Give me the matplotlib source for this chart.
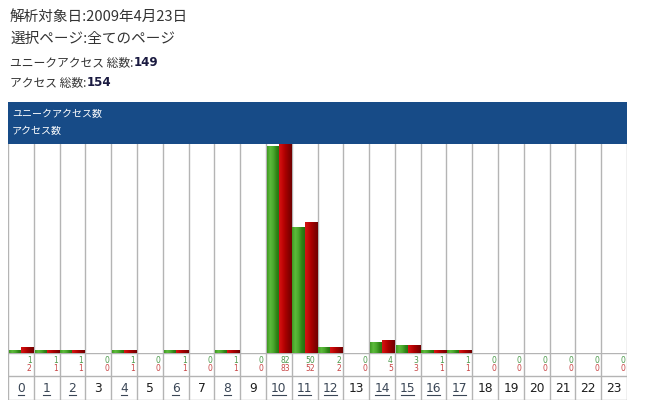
import numpy as np
import matplotlib
matplotlib.use("Agg")
import matplotlib.pyplot as plt
from matplotlib.colors import LinearSegmentedColormap

plt.rcParams['font.family'] = ['Noto Sans CJK JP', 'DejaVu Sans']

# data: hourly access counts for 2009-04-23
hours = list(range(24))
unique_access = [1, 1, 1, 0, 1, 0, 1, 0, 1, 0, 82, 50, 2, 0, 4, 3, 1, 1, 0, 0, 0, 0, 0, 0]
total_access = [2, 1, 1, 0, 1, 0, 1, 0, 1, 0, 83, 52, 2, 0, 5, 3, 1, 1, 0, 0, 0, 0, 0, 0]
title_lines = ["解析対象日:2009年4月23日", "選択ページ:全てのページ"]
legend_labels = ["ユニークアクセス数", "アクセス数"]

W, H = 649, 404
fig = plt.figure(figsize=(W / 100, H / 100), dpi=100)
fig.patch.set_facecolor("white")


def fx(px):
    return px / W


def fy(py):
    return 1 - py / H


left, right = 8, 627
band_top, band_bot = 102, 144
bar_bot = 353
val_bot = 376
tab_bot = 400

# header text
fig.text(fx(10), fy(17), title_lines[0], fontsize=10.5, color="#333333", va="center")
fig.text(fx(10), fy(39), title_lines[1], fontsize=10.5, color="#333333", va="center")
t = fig.text(fx(10), fy(63), "ユニークアクセス 総数:", fontsize=8.5, color="#333333", va="center")
fig.canvas.draw()
bb = t.get_window_extent()
fig.text(bb.x1 / W, fy(63), str(sum(unique_access)), fontsize=8.5, color="#1a1a40",
         fontweight="bold", va="center", family="DejaVu Sans")
t = fig.text(fx(10), fy(83), "アクセス 総数:", fontsize=8.5, color="#333333", va="center")
fig.canvas.draw()
bb = t.get_window_extent()
fig.text(bb.x1 / W, fy(83), str(sum(total_access)), fontsize=8.5, color="#1a1a40",
         fontweight="bold", va="center", family="DejaVu Sans")

# blue banner
ax_band = fig.add_axes([fx(left), fy(band_bot), fx(right - left), (band_bot - band_top) / H])
ax_band.set_facecolor("#174b87")
ax_band.set_xticks([])
ax_band.set_yticks([])
for s in ax_band.spines.values():
    s.set_visible(False)
ax_band.text(4 / (right - left), 0.72, legend_labels[0], color="white", fontsize=7.2,
             transform=ax_band.transAxes, va="center")
ax_band.text(4 / (right - left), 0.32, legend_labels[1], color="white", fontsize=7.2,
             transform=ax_band.transAxes, va="center")

# bar area
n = len(hours)
ymax = max(total_access)
ax = fig.add_axes([fx(left), fy(bar_bot), fx(right - left), (bar_bot - band_bot) / H])
ax.set_xlim(0, n)
ax.set_ylim(0, ymax)
ax.set_xticks([])
ax.set_yticks([])
for s in ax.spines.values():
    s.set_visible(False)

green_cmap = LinearSegmentedColormap.from_list(
    "g", ["#3f9a22", "#5dbb3c", "#4aa82c", "#2f8416", "#24700f"])
red_cmap = LinearSegmentedColormap.from_list(
    "r", ["#d41414", "#c40808", "#a80000", "#8a0000", "#700000"])
grad = np.linspace(0, 1, 64).reshape(1, -1)

gap = 0.03
for i in hours:
    if unique_access[i] > 0:
        ax.imshow(grad, cmap=green_cmap, aspect="auto", interpolation="bilinear",
                  extent=[i + gap, i + 0.5, 0, unique_access[i]], zorder=2)
    if total_access[i] > 0:
        ax.imshow(grad, cmap=red_cmap, aspect="auto", interpolation="bilinear",
                  extent=[i + 0.5, i + 1 - gap, 0, total_access[i]], zorder=2)
ax.set_xlim(0, n)
ax.set_ylim(0, ymax)
for i in range(n + 1):
    ax.axvline(i, color="#b4b4b4", lw=1, zorder=1)

# lower table: value rows and hour labels
ax_tab = fig.add_axes([fx(left), fy(tab_bot), fx(right - left), (tab_bot - bar_bot) / H])
ax_tab.set_xlim(0, n)
ax_tab.set_ylim(tab_bot - bar_bot, 0)
ax_tab.set_xticks([])
ax_tab.set_yticks([])
for s in ax_tab.spines.values():
    s.set_visible(False)
for i in range(n + 1):
    ax_tab.axvline(i, color="#b4b4b4", lw=1)
for yy in [0, val_bot - bar_bot, tab_bot - bar_bot - 0.5]:
    ax_tab.axhline(yy, color="#b4b4b4", lw=1)

for i in hours:
    ax_tab.text(i + 0.92, 7.5, str(unique_access[i]), ha="right", va="center",
                fontsize=5.5, color="#4c9a4c", family="DejaVu Sans")
    ax_tab.text(i + 0.92, 15.5, str(total_access[i]), ha="right", va="center",
                fontsize=5.5, color="#c84646", family="DejaVu Sans")
    linked = total_access[i] > 0
    ax_tab.text(i + 0.5, 35, str(hours[i]), ha="center", va="center", fontsize=8.8,
                color="#3a4656" if linked else "#1e1e1e", family="DejaVu Sans")
    if linked:
        w = 0.13 * len(str(hours[i]))
        ax_tab.plot([i + 0.5 - w, i + 0.5 + w], [41.5, 41.5], color="#3a4656", lw=0.8)

fig.savefig("out.png", dpi=100)
